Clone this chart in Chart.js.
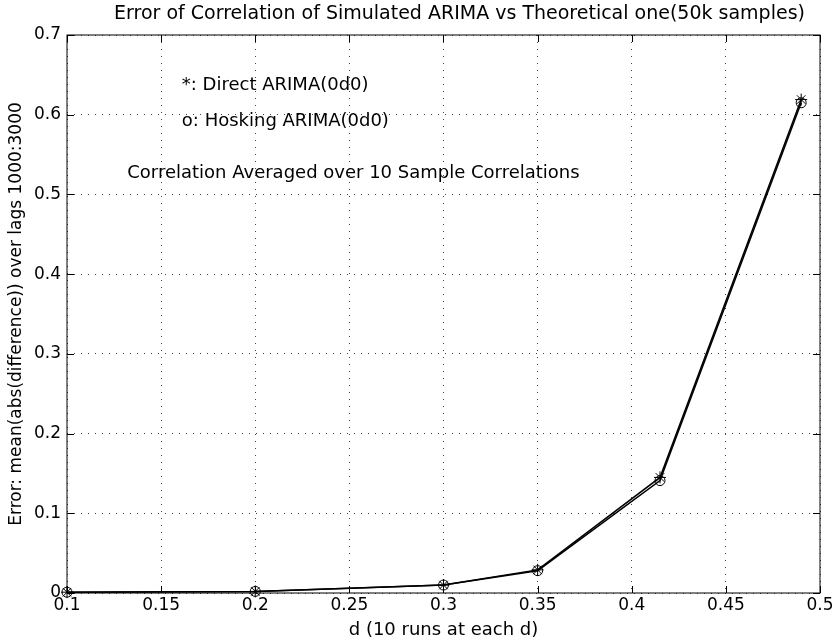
<!DOCTYPE html>
<html>
<head>
<meta charset="utf-8">
<script src="https://cdn.jsdelivr.net/npm/chart.js@4.4.1/dist/chart.umd.min.js"></script>
<style>
  html, body { margin: 0; padding: 0; background: #fff; }
  #wrap { width: 836px; height: 644px; }
</style>
</head>
<body>
<div id="wrap"><canvas id="chart" width="836" height="644"></canvas></div>
<script>
const dValues = [0.1, 0.2, 0.3, 0.35, 0.415, 0.49];
const directErr = [0.001, 0.002, 0.010, 0.029, 0.145, 0.619];
const hoskingErr = [0.001, 0.002, 0.010, 0.028, 0.141, 0.615];
const xTicks = [0.1, 0.15, 0.2, 0.25, 0.3, 0.35, 0.4, 0.45, 0.5];
const yTicks = [0, 0.1, 0.2, 0.3, 0.4, 0.5, 0.6, 0.7];

const FONT = "'DejaVu Sans', sans-serif";

const toPoints = (xs, ys) => xs.map((x, i) => ({ x, y: ys[i] }));

// box, inward ticks, titles and the text notes
const matlabFrame = {
  id: "matlabFrame",
  afterDraw(chart) {
    const { ctx, chartArea: a, scales: { x, y } } = chart;
    ctx.save();
    ctx.strokeStyle = "#000";
    ctx.lineWidth = 1;
    ctx.strokeRect(a.left, a.top, a.right - a.left, a.bottom - a.top);
    ctx.beginPath();
    xTicks.forEach(v => {
      const px = Math.round(x.getPixelForValue(v)) + 0.5;
      ctx.moveTo(px, a.bottom); ctx.lineTo(px, a.bottom - 7);
      ctx.moveTo(px, a.top); ctx.lineTo(px, a.top + 7);
    });
    yTicks.forEach(v => {
      const py = Math.round(y.getPixelForValue(v)) + 0.5;
      ctx.moveTo(a.left, py); ctx.lineTo(a.left + 7, py);
      ctx.moveTo(a.right, py); ctx.lineTo(a.right - 7, py);
    });
    ctx.stroke();

    ctx.fillStyle = "#000";
    ctx.textBaseline = "middle";
    ctx.textAlign = "center";
    ctx.font = "19px " + FONT;
    ctx.fillText("Error of Correlation of Simulated ARIMA vs Theoretical one(50k samples)", (a.left + a.right) / 2 + 16, 14);
    ctx.font = "18px " + FONT;
    ctx.fillText("d (10 runs at each d)", (a.left + a.right) / 2, 630);
    ctx.save();
    ctx.translate(17, (a.top + a.bottom) / 2);
    ctx.rotate(-Math.PI / 2);
    ctx.font = "17px " + FONT;
    ctx.fillText("Error: mean(abs(difference)) over lags 1000:3000", 0, 0);
    ctx.restore();

    ctx.textAlign = "left";
    ctx.font = "18px " + FONT;
    ctx.fillText("*: Direct ARIMA(0d0)", x.getPixelForValue(0.161), y.getPixelForValue(0.637));
    ctx.fillText("o: Hosking ARIMA(0d0)", x.getPixelForValue(0.161), y.getPixelForValue(0.592));
    ctx.fillText("Correlation Averaged over 10 Sample Correlations", x.getPixelForValue(0.132), y.getPixelForValue(0.526));
    ctx.restore();
  }
};

new Chart(document.getElementById("chart"), {
  type: "line",
  data: {
    datasets: [
      {
        label: "Direct",
        data: toPoints(dValues, directErr),
        borderColor: "#000",
        borderWidth: 1.5,
        pointStyle: "star",
        pointRadius: 6,
        pointBorderColor: "#000",
        pointBorderWidth: 1,
        pointBackgroundColor: "transparent",
        clip: false,
      },
      {
        label: "Hosking",
        data: toPoints(dValues, hoskingErr),
        borderColor: "#000",
        borderWidth: 1.5,
        pointStyle: "circle",
        pointRadius: 5,
        pointBorderColor: "#000",
        pointBorderWidth: 1,
        pointBackgroundColor: "transparent",
        clip: false,
      },
    ],
  },
  options: {
    responsive: false,
    animation: false,
    layout: { padding: { top: 35, right: 16, left: 0, bottom: 0 } },
    plugins: { legend: { display: false }, title: { display: false }, tooltip: { enabled: false } },
    scales: {
      x: {
        type: "linear",
        min: 0.1, max: 0.5,
        afterBuildTicks: s => { s.ticks = xTicks.map(v => ({ value: v })); },
        afterFit: s => { s.height = 51; },
        ticks: { color: "#000", font: { family: FONT, size: 17 }, padding: 2, maxRotation: 0,
                 callback: v => String(+v.toFixed(3)) },
        grid: { color: "#444", lineWidth: 1, drawTicks: false },
        border: { display: false, dash: [1, 6] },
      },
      y: {
        min: 0, max: 0.7,
        afterBuildTicks: s => { s.ticks = yTicks.map(v => ({ value: v })); },
        afterFit: s => { s.width = 67; },
        ticks: { color: "#000", font: { family: FONT, size: 17 }, padding: 6,
                 callback: v => String(+v.toFixed(3)) },
        grid: { color: "#444", lineWidth: 1, drawTicks: false },
        border: { display: false, dash: [1, 6] },
      },
    },
  },
  plugins: [matlabFrame],
});
</script>
</body>
</html>
